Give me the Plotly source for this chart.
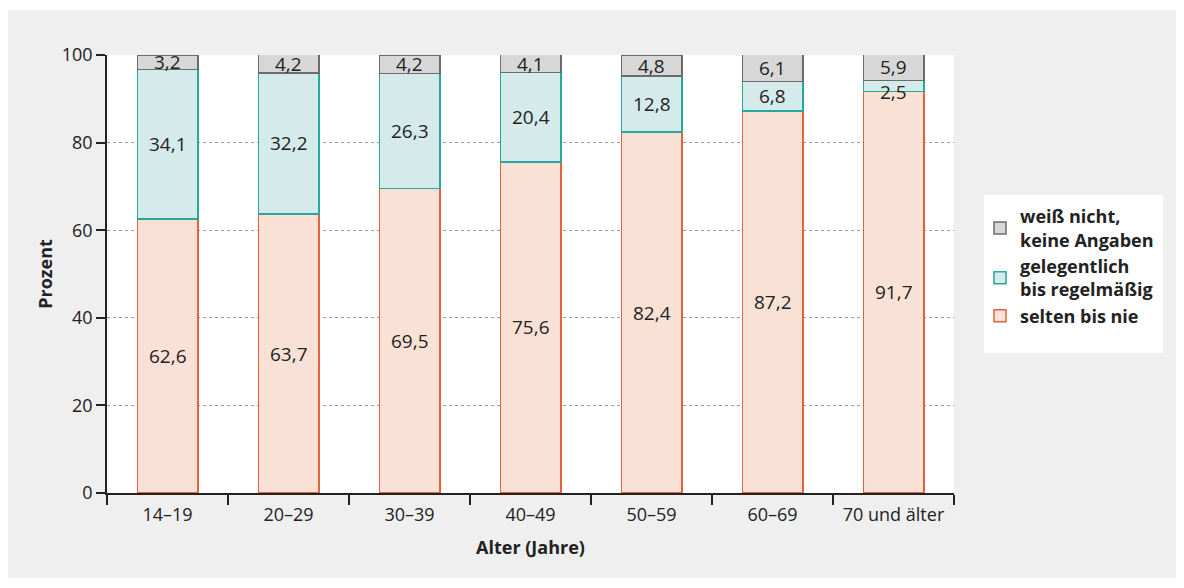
import plotly.graph_objects as go

categories = ["14–19", "20–29", "30–39", "40–49", "50–59", "60–69", "70 und älter"]
selten = [62.6, 63.7, 69.5, 75.6, 82.4, 87.2, 91.7]
gelegentlich = [34.1, 32.2, 26.3, 20.4, 12.8, 6.8, 2.5]
weiss_nicht = [3.2, 4.2, 4.2, 4.1, 4.8, 6.1, 5.9]

names = ["selten bis nie", "gelegentlich<br>bis regelmäßig", "weiß nicht,<br>keine Angaben"]
fills = ["#fae1d5", "#d5eaea", "#d7d7d7"]
lines = ["#e2643e", "#27a89c", "#6b6b6b"]

FONT = "Open Sans"
TXT = "#222222"
series = [selten, gelegentlich, weiss_nicht]

fig = go.Figure()
for vals, name, fc, lc in zip(series, names, fills, lines):
    fig.add_trace(go.Bar(
        x=categories, y=vals, name=name,
        marker=dict(color=fc, line=dict(color=lc, width=1.5)),
        hoverinfo="x+y",
    ))

# value labels at segment centres (tiny segments nudged down to avoid overlap)
annotations = []
base = [0.0] * len(categories)
for vals in series:
    for cat, b, v in zip(categories, base, vals):
        annotations.append(dict(
            x=cat, y=b + v / 2, xref="x", yref="y",
            text=f"{v:.1f}".replace(".", ","), showarrow=False,
            yshift=-6 if v < 3 else 0,
            font=dict(family=FONT, size=19, color=TXT),
        ))
    base = [b + v for b, v in zip(base, vals)]

# page has an 8px body margin; figure occupies page x 8..1184, y 8..588
OFF = 8
W, H = 1184 - OFF, 588 - OFF
L, R, T, B = 107 - OFF, 1184 - 954, 55 - OFF, 588 - 493
pw, ph = W - L - R, H - T - B

def px_x(x):
    return (x - OFF - L) / pw

def px_y(y):
    return (H - B - (y - OFF)) / ph

shapes = [
    dict(type="rect", xref="paper", yref="paper", layer="below",
         x0=px_x(8), x1=px_x(1176), y0=px_y(578), y1=px_y(10),
         fillcolor="#efefef", line=dict(width=0)),
    dict(type="rect", xref="paper", yref="paper", layer="below",
         x0=0, x1=1, y0=0, y1=1, fillcolor="white", line=dict(width=0)),
    dict(type="rect", xref="paper", yref="paper", layer="below",
         x0=px_x(984), x1=px_x(1163), y0=px_y(353), y1=px_y(195),
         fillcolor="white", line=dict(width=0)),
]

fig.update_layout(
    width=W, height=H,
    margin=dict(l=L, r=R, t=T, b=B),
    barmode="stack", bargap=0.5,
    paper_bgcolor="white", plot_bgcolor="white",
    font=dict(family=FONT, size=18, color=TXT),
    shapes=shapes,
    annotations=annotations,
    legend=dict(
        x=px_x(980), y=px_y(198), xanchor="left", yanchor="top",
        traceorder="reversed", bgcolor="rgba(0,0,0,0)",
        font=dict(family=FONT, size=18, color=TXT, weight="bold"),
        itemwidth=30, tracegroupgap=2,
    ),
    xaxis=dict(
        showline=True, linecolor=TXT, linewidth=1.5,
        ticks="outside", tickson="boundaries", ticklen=10, tickcolor=TXT, tickwidth=1.5,
        ticklabelstandoff=5,
        tickfont=dict(family=FONT, size=18, color=TXT),
        title=dict(text="Alter (Jahre)", font=dict(family=FONT, size=18, color=TXT, weight="bold"), standoff=16),
    ),
    yaxis=dict(
        range=[0, 100], tickvals=[0, 20, 40, 60, 80, 100],
        showline=True, linecolor=TXT, linewidth=1.5,
        ticks="outside", ticklen=9, tickcolor=TXT, tickwidth=1.5,
        showgrid=True, gridcolor="#9a9a9a", griddash="dot", gridwidth=1,
        zeroline=False,
        tickfont=dict(family=FONT, size=18, color=TXT),
        title=dict(text="Prozent", font=dict(family=FONT, size=18, color=TXT, weight="bold"), standoff=4),
    ),
)

fig.write_html("out.html")
